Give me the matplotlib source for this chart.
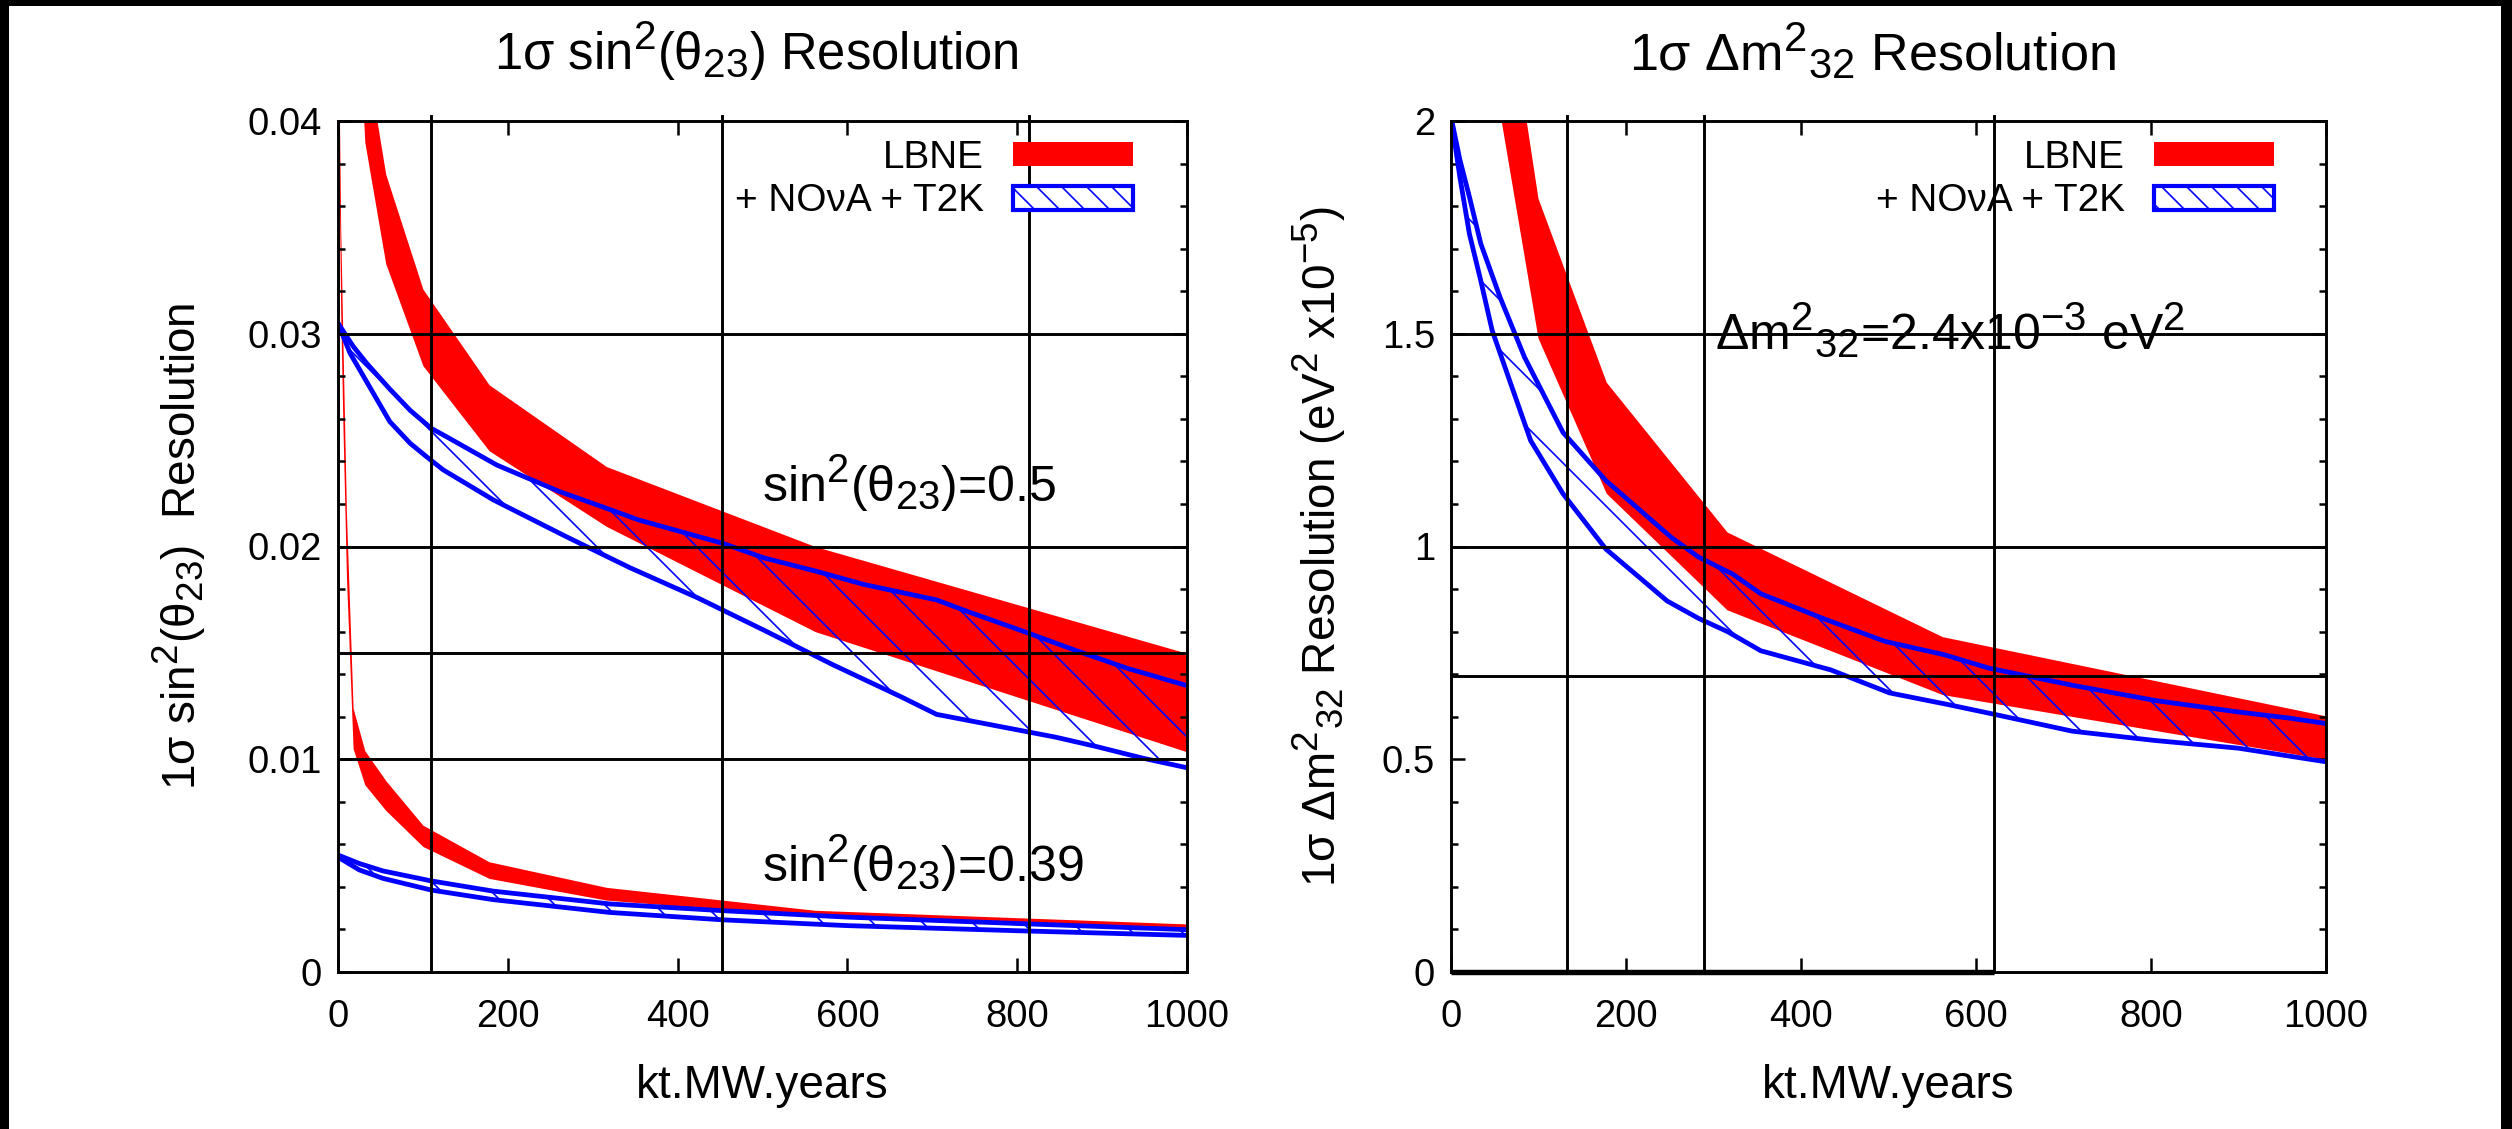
import matplotlib
matplotlib.use('Agg')
import matplotlib.pyplot as plt
from matplotlib.patches import Patch, Rectangle
from matplotlib.ticker import MultipleLocator, NullLocator, FuncFormatter
import numpy as np

try:
    import matplotlib._mathtext as _mt
    _mt.SHRINK_FACTOR = 0.8
except Exception:
    pass

plt.rcParams['font.family'] = ['Liberation Sans', 'DejaVu Sans']
plt.rcParams['mathtext.fontset'] = 'custom'
plt.rcParams['mathtext.rm'] = 'Liberation Sans'
plt.rcParams['mathtext.it'] = 'Liberation Sans:italic'
plt.rcParams['mathtext.bf'] = 'Liberation Sans:bold'
plt.rcParams['mathtext.default'] = 'regular'
plt.rcParams['hatch.linewidth'] = 0.4

# ---------------- data: left panel (sin^2 theta23) ----------------
lbne_x = [1, 1.78, 3.16, 5.62, 10, 17.8, 31.6, 56.2, 100, 178, 316, 562, 1000]

# sin^2(theta23)=0.5, LBNE band
lbne05_x = [17.8, 31.6, 56.2, 100, 178, 316, 562, 1000]
lbne05_hi = [0.060, 0.0435, 0.0375, 0.0321, 0.0276, 0.02376, 0.0200, 0.01498]
lbne05_lo = [0.050, 0.0390, 0.0333, 0.0285, 0.0245, 0.02095, 0.0160, 0.01035]

# sin^2(theta23)=0.39, LBNE band
lbne039_hi = [0.046, 0.040, 0.035, 0.030, 0.0215, 0.0124, 0.0104, 0.0090, 0.0069, 0.00518, 0.00398, 0.00290, 0.00226]
lbne039_lo = [0.041, 0.036, 0.031, 0.026, 0.0185, 0.0105, 0.0088, 0.0076, 0.0059, 0.00440, 0.00338, 0.00260, 0.00200]

# sin^2(theta23)=0.5, LBNE + NOvA + T2K band
comb05_hi_x = [0, 18, 34, 61, 85, 110, 126, 187, 261, 309, 354, 453, 502, 563, 620, 705, 741, 804, 872, 930, 1000]
comb05_hi = [0.0305, 0.0294, 0.0286, 0.0274, 0.0264, 0.02555, 0.0252, 0.02383, 0.02258, 0.0219, 0.02125,
             0.02015, 0.01946, 0.01884, 0.01821, 0.01749, 0.01695, 0.01606, 0.01507, 0.01427, 0.01346]
comb05_lo_x = [0, 14, 30, 61, 85, 108, 124, 183, 269, 344, 424, 502, 583, 664, 705, 786, 845, 894, 948, 1000]
comb05_lo = [0.0305, 0.0291, 0.0280, 0.02587, 0.02485, 0.0241, 0.0236, 0.02219, 0.02046, 0.0190, 0.01758,
             0.01606, 0.01444, 0.01292, 0.01211, 0.01149, 0.01104, 0.01059, 0.01005, 0.0096]

# sin^2(theta23)=0.39, LBNE + NOvA + T2K band
comb039_x = [0, 25, 53, 110, 183, 320, 454, 600, 800, 1000]
comb039_hi = [0.0055, 0.0051, 0.00475, 0.00428, 0.00380, 0.00320, 0.00288, 0.00258, 0.00228, 0.00199]
comb039_lo = [0.0054, 0.0048, 0.0044, 0.00385, 0.00340, 0.00280, 0.00245, 0.00218, 0.00194, 0.00172]

left_hlines = [0.03, 0.02, 0.015, 0.01]
left_vlines = [110, 452, 814]

# ---------------- data: right panel (dm^2_32) ----------------
lbne_dm_x = [31.6, 56.2, 100, 178, 316, 562, 1000]
lbne_dm_hi = [3.2, 2.41, 1.817, 1.385, 1.033, 0.787, 0.601]
lbne_dm_lo = [2.7, 2.02, 1.489, 1.124, 0.850, 0.651, 0.499]

comb_dm_hi_x = [0, 10, 21, 34, 56, 84, 128, 177, 252, 283, 322, 354, 425, 496, 563, 615, 710, 805, 900, 957, 1000]
comb_dm_hi = [2.01, 1.91, 1.822, 1.712, 1.586, 1.445, 1.268, 1.155, 1.021, 0.975, 0.935, 0.889, 0.831,
              0.777, 0.746, 0.714, 0.674, 0.638, 0.611, 0.597, 0.584]
comb_dm_lo_x = [0, 10, 21, 34, 47, 67, 91, 128, 177, 247, 283, 316, 354, 434, 501, 567, 620, 710, 805, 900, 1000]
comb_dm_lo = [2.01, 1.87, 1.735, 1.625, 1.508, 1.39, 1.249, 1.124, 0.994, 0.872, 0.831, 0.80, 0.755,
              0.71, 0.656, 0.629, 0.606, 0.566, 0.544, 0.526, 0.494]

right_hlines = [1.5, 1.0, 0.695]
right_vlines = [132, 289, 621]
right_base_x = [0, 621]

# ---------------- figure ----------------
DPI = 300
W, H = 2512, 1129
fig = plt.figure(figsize=(W / DPI, H / DPI), dpi=DPI)
fig.patch.set_facecolor('white')

ax1 = fig.add_axes([338 / W, (H - 972) / H, 849 / W, 851 / H])
ax2 = fig.add_axes([1451 / W, (H - 972) / H, 875 / W, 851 / H])

RED = '#ff0000'
BLUE = '#0000ff'
fmt = FuncFormatter(lambda v, p: f'{v:g}')
TITLE_FS = 12.2
ANN_FS = 12.0
LAB_FS = 11.0


def style_axes(ax, ymaj, ymin_step, ylim):
    ax.set_xlim(0, 1000)
    ax.set_ylim(*ylim)
    ax.xaxis.set_major_locator(MultipleLocator(200))
    ax.xaxis.set_minor_locator(NullLocator())
    ax.yaxis.set_major_locator(MultipleLocator(ymaj))
    ax.yaxis.set_minor_locator(MultipleLocator(ymin_step))
    ax.xaxis.set_major_formatter(fmt)
    ax.yaxis.set_major_formatter(fmt)
    ax.tick_params(which='both', direction='in', top=True, right=True, width=0.6, colors='black')
    ax.tick_params(which='major', length=3.4, labelsize=9.2)
    ax.tick_params(which='minor', length=1.7)
    ax.tick_params(axis='y', pad=3.8)
    ax.tick_params(axis='x', pad=6.5)
    for s in ax.spines.values():
        s.set_linewidth(0.7)
        s.set_zorder(6)


def band(ax, xh, yh, xl, yl):
    px = np.concatenate([np.asarray(xh, float), np.asarray(xl, float)[::-1]])
    py = np.concatenate([np.asarray(yh, float), np.asarray(yl, float)[::-1]])
    ax.fill(px, py, facecolor='none', edgecolor=BLUE, hatch='\\\\', linewidth=0, zorder=2)
    ax.plot(xh, yh, color=BLUE, lw=1.15, zorder=3, solid_joinstyle='miter')
    ax.plot(xl, yl, color=BLUE, lw=1.15, zorder=3, solid_joinstyle='miter')


def legend(ax, xr):
    handles = [Patch(facecolor=RED, edgecolor='none', label='LBNE'),
               Patch(facecolor='white', edgecolor=BLUE, hatch='\\\\\\\\', linewidth=1.0,
                     label='+ NOνA + T2K')]
    leg = ax.legend(handles=handles, loc='upper right', bbox_to_anchor=(xr, 0.978),
                    frameon=False, markerfirst=False, fontsize=9.3, handlelength=3.1,
                    handleheight=0.6, handletextpad=0.75, labelspacing=0.2,
                    borderpad=0, borderaxespad=0)
    leg.set_zorder(10)


# ---- left panel ----
style_axes(ax1, 0.01, 0.002, (0, 0.04))
ax1.fill_between(lbne05_x, lbne05_lo, lbne05_hi, color=RED, lw=0, zorder=1)
ax1.fill_between(lbne_x, lbne039_lo, lbne039_hi, color=RED, lw=0, zorder=1)
band(ax1, comb05_hi_x, comb05_hi, comb05_lo_x, comb05_lo)
band(ax1, comb039_x, comb039_hi, comb039_x, comb039_lo)
for y in left_hlines:
    ax1.axhline(y, color='black', lw=0.7, zorder=4)
for x in left_vlines:
    ax1.axvline(x, ymin=0, ymax=1.006, color='black', lw=0.7, zorder=4, clip_on=False)
ax1.text(500, 0.0221, 'si$n^{2}$($θ_{23}$)=0.5', fontsize=ANN_FS, ha='left', va='baseline', zorder=7)
ax1.text(500, 0.00423, 'si$n^{2}$($θ_{23}$)=0.39', fontsize=ANN_FS, ha='left', va='baseline', zorder=7)
ax1.set_title('1σ si$n^{2}$($θ_{23}$) Resolution', fontsize=TITLE_FS, pad=12.2)
ax1.title.set_x(0.5 - 6 / 849)
ax1.set_xlabel('kt.MW.years', fontsize=LAB_FS)
ax1.xaxis.label.set_va('baseline')
ax1.xaxis.set_label_coords(0.5, (972 - 1098) / 851)
ax1.set_ylabel('1σ si$n^{2}$($θ_{23}$)  Resolution', fontsize=LAB_FS)
ax1.yaxis.label.set_va('baseline')
ax1.yaxis.set_label_coords((196 - 338) / 849, 0.5)
legend(ax1, (1133 - 338) / 849)

# ---- right panel ----
style_axes(ax2, 0.5, 0.1, (0, 2))
ax2.fill_between(lbne_dm_x, lbne_dm_lo, lbne_dm_hi, color=RED, lw=0, zorder=1)
band(ax2, comb_dm_hi_x, comb_dm_hi, comb_dm_lo_x, comb_dm_lo)
for y in right_hlines:
    ax2.axhline(y, color='black', lw=0.7, zorder=4)
for x in right_vlines:
    ax2.axvline(x, ymin=0, ymax=1.006, color='black', lw=0.7, zorder=4, clip_on=False)
ax2.hlines(0, right_base_x[0], right_base_x[1], color='black', lw=1.3, zorder=7, clip_on=False)
ax2.text(302, 1.461, 'Δ$m^{2}{}_{32}$=2.4x1$0^{-3}$ e$V^{2}$', fontsize=ANN_FS, ha='left',
         va='baseline', zorder=7)
ax2.set_title('1σ Δ$m^{2}{}_{32}$ Resolution', fontsize=12.5, pad=12.2)
ax2.title.set_x(0.5 - 16 / 875)
ax2.set_xlabel('kt.MW.years', fontsize=LAB_FS)
ax2.xaxis.label.set_va('baseline')
ax2.xaxis.set_label_coords(0.5, (972 - 1098) / 851)
ax2.set_ylabel('1σ Δ$m^{2}{}_{32}$ Resolution (e$V^{2}$ x1$0^{-5}$)', fontsize=LAB_FS)
ax2.yaxis.label.set_va('baseline')
ax2.yaxis.set_label_coords((1336 - 1451) / 875, 0.5)
legend(ax2, (2274 - 1451) / 875)

# black frame strips at the image edges
fig.add_artist(Rectangle((0, 0), 9 / W, 1, transform=fig.transFigure, color='black', lw=0))
fig.add_artist(Rectangle((0, 1 - 6 / H), 1, 6 / H, transform=fig.transFigure, color='black', lw=0))
fig.add_artist(Rectangle((1 - 11 / W, 0), 11 / W, 1, transform=fig.transFigure, color='black', lw=0))

fig.savefig('out.png', dpi=DPI)
